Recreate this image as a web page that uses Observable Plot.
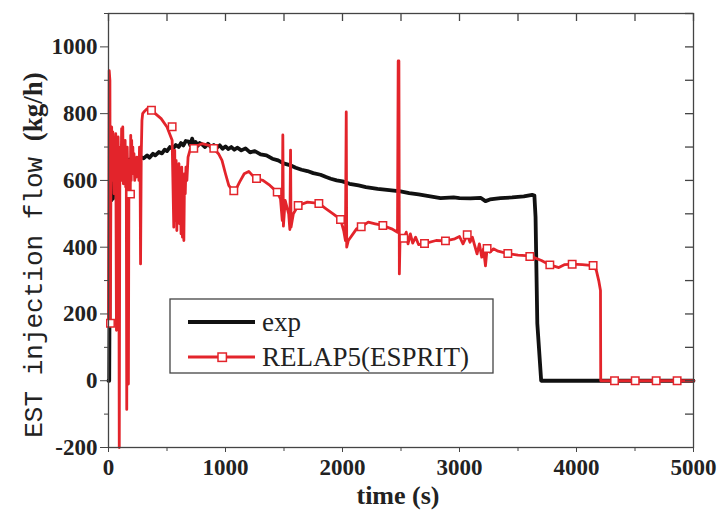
<!DOCTYPE html>
<html>
<head>
<meta charset="utf-8">
<script src="https://cdn.jsdelivr.net/npm/d3@7"></script>
<script src="https://cdn.jsdelivr.net/npm/@observablehq/plot@0.6"></script>
<style>
  html, body { margin: 0; padding: 0; background: #fff; }
  #chart svg { display: block; }
</style>
</head>
<body>
<div id="chart"></div>
<script>
// ---- data ----
const xTicks = [0, 1000, 2000, 3000, 4000, 5000];
const xMinor = [500, 1500, 2500, 3500, 4500];
const yTicks = [-200, 0, 200, 400, 600, 800, 1000];
const yMinor = [-100, 100, 300, 500, 700, 900, 1100];
const yRight = [-100, 0, 100, 200, 300, 400, 500, 600, 700, 800, 900, 1000, 1100];

const seriesNames = ["exp", "RELAP5(ESPRIT)"];

const expT = [0, 6, 8, 12, 18, 24, 30, 38, 45, 52, 60, 70, 80, 90, 100, 115, 130, 145, 160, 180, 200, 225, 250, 275, 300, 330, 350, 380, 400, 430, 457, 480, 500, 525, 550, 575, 600, 620, 640, 660, 686, 700, 715, 730, 745, 760, 780, 800, 825, 850, 875, 900, 925, 950, 975, 1000, 1025, 1050, 1075, 1100, 1135, 1171, 1210, 1250, 1300, 1350, 1400, 1450, 1496, 1550, 1600, 1650, 1700, 1750, 1812, 1860, 1900, 1950, 2000, 2060, 2137, 2200, 2300, 2400, 2496, 2570, 2650, 2750, 2838, 2950, 3000, 3094, 3180, 3222, 3260, 3350, 3450, 3550, 3621, 3640, 3650, 3665, 3698, 5000];
const expV = [0, 0, 157, 530, 600, 540, 590, 545, 620, 560, 600, 630, 640, 650, 645, 655, 645, 660, 650, 663, 650, 665, 660, 670, 666, 675, 668, 680, 675, 685, 681, 692, 688, 700, 695, 706, 700, 712, 705, 718, 716, 705, 725, 708, 715, 703, 712, 708, 700, 710, 700, 706, 698, 705, 695, 702, 694, 700, 692, 698, 690, 696, 684, 688, 678, 675, 665, 660, 651, 646, 638, 632, 628, 622, 617, 610, 605, 600, 597, 590, 585, 580, 575, 571, 567, 562, 558, 552, 547, 549, 547, 546, 548, 538, 543, 547, 549, 552, 557, 555, 490, 172, 0, 0];

const relT = [0, 6, 12, 16, 22, 27, 32, 37, 42, 48, 53, 58, 62, 68, 72, 77, 82, 88, 92, 97, 102, 107, 112, 117, 122, 127, 132, 137, 142, 147, 152, 156, 160, 165, 170, 175, 180, 186, 190, 194, 198, 203, 208, 213, 218, 224, 230, 236, 242, 248, 255, 260, 265, 270, 274, 280, 286, 292, 302, 330, 367, 400, 450, 500, 544, 558, 566, 572, 578, 584, 590, 596, 602, 608, 614, 620, 626, 632, 638, 644, 650, 656, 662, 670, 680, 700, 729, 800, 860, 900, 940, 970, 1000, 1028, 1060, 1085, 1120, 1160, 1199, 1230, 1265, 1320, 1380, 1442, 1470, 1485, 1490, 1495, 1510, 1540, 1550, 1556, 1560, 1580, 1621, 1700, 1798, 1860, 1920, 1983, 2010, 2025, 2032, 2036, 2050, 2090, 2120, 2160, 2220, 2280, 2345, 2420, 2470, 2476, 2482, 2486, 2492, 2524, 2545, 2560, 2580, 2600, 2625, 2650, 2701, 2800, 2880, 2960, 3000, 3030, 3066, 3090, 3110, 3130, 3150, 3170, 3190, 3205, 3222, 3236, 3260, 3290, 3330, 3413, 3500, 3601, 3700, 3772, 3849, 3900, 3963, 4050, 4142, 4170, 4190, 4205, 4207, 5000];
const relV = [172, 929, 900, 172, 720, 760, 600, 745, 650, 560, 720, 600, 740, 151, 700, 590, 730, 600, -200, 640, 700, 600, 755, 640, 760, 590, 700, 610, 720, 580, 640, -86, 700, 600, -10, 660, 600, 559, 735, 600, 720, 640, 700, 620, 680, 600, 660, 610, 670, 620, 650, 600, 700, 640, 350, 680, 780, 800, 805, 815, 815, 800, 785, 760, 720, 460, 690, 480, 660, 450, 640, 520, 650, 470, 620, 440, 640, 430, 600, 420, 620, 560, 640, 600, 670, 695, 700, 710, 705, 695, 680, 660, 620, 585, 570, 570, 595, 620, 627, 615, 605, 600, 585, 565, 545, 480, 736, 463, 540, 500, 453, 691, 460, 500, 525, 535, 531, 515, 500, 483, 450, 420, 805, 400, 420, 440, 455, 461, 475, 470, 465, 455, 445, 958, 958, 320, 430, 427, 445, 410, 440, 412, 430, 408, 411, 420, 419, 425, 432, 410, 437, 415, 430, 405, 380, 410, 370, 395, 344, 396, 385, 395, 388, 381, 376, 374, 360, 347, 339, 348, 349, 348, 345, 330, 300, 270, 0, 0];

const markT = [17, 188, 367, 544, 729, 900, 1071, 1265, 1442, 1621, 1798, 1983, 2160, 2345, 2524, 2701, 2880, 3066, 3236, 3413, 3601, 3772, 3963, 4142, 4325, 4502, 4681, 4860];
const markV = [172, 559, 810, 761, 696, 696, 569, 606, 565, 525, 531, 483, 461, 465, 427, 411, 419, 437, 396, 381, 372, 347, 349, 345, 0, 0, 0, 0];

// ---- build tables ----
const expData = expT.map((t, i) => ({t, v: expV[i]}));
const relData = relT.map((t, i) => ({t, v: relV[i]}));
const markData = markT.map((t, i) => ({t, v: markV[i]}));

const W = 719, H = 510;
const mL = 108, mR = 26, mT = 13, mB = 63;
const fw = W - mL - mR, fh = H - mT - mB;
const RED = "#e3242b", BLACK = "#111", AX = "#444";
const SERIF = "'Liberation Serif', 'Times New Roman', serif";
const tickFont = {fontSize: 23, fontWeight: "bold", fill: "#222"};

const svg = Plot.plot({
  width: W, height: H,
  marginLeft: mL, marginRight: mR, marginTop: mT, marginBottom: mB,
  style: {background: "#fff", color: AX, fontFamily: SERIF},
  x: {domain: [0, 5000], label: null},
  y: {domain: [-200, 1100], label: null},
  marks: [
    Plot.line(expData, {x: "t", y: "v", stroke: BLACK, strokeWidth: 3.8, strokeLinejoin: "round"}),
    Plot.line(relData, {x: "t", y: "v", stroke: RED, strokeWidth: 2.8, strokeLinejoin: "round"}),
    Plot.dot(markData, {x: "t", y: "v", symbol: "square", r: 4.2, fill: "#fff", stroke: RED, strokeWidth: 1.5}),
    Plot.frame({stroke: AX, strokeWidth: 1.3}),
    Plot.axisX(xTicks, {anchor: "bottom", label: null, tickSize: 5, tickPadding: 6, stroke: AX, ...tickFont, tickFormat: d => String(d)}),
    Plot.axisX(xMinor, {anchor: "bottom", label: null, tickSize: 4, text: null, stroke: AX}),
    Plot.axisY(yTicks, {anchor: "left", label: null, tickSize: 8, tickPadding: 3, stroke: AX, ...tickFont, tickFormat: d => String(d)}),
    Plot.axisY(yMinor, {anchor: "left", label: null, tickSize: 4, text: null, stroke: AX}),
    Plot.ruleX([...xTicks, ...xMinor], {x: d => d, insetBottom: fh - 8, stroke: AX, strokeWidth: 1.3}),
    Plot.ruleY(yRight, {y: d => d, insetLeft: fw - 8, stroke: AX, strokeWidth: 1.3})
  ]
});

const s = d3.select(svg);
// force serif on all tick labels
s.selectAll("text").attr("font-family", SERIF).style("font-family", SERIF);

// legend box
const lg = s.append("g").attr("text-anchor", "start");
lg.append("rect").attr("x", 170).attr("y", 299).attr("width", 323).attr("height", 74)
  .attr("fill", "#fff").attr("stroke", AX).attr("stroke-width", 1.3);
lg.append("line").attr("x1", 188).attr("x2", 255).attr("y1", 322).attr("y2", 322)
  .attr("stroke", BLACK).attr("stroke-width", 3.8);
lg.append("line").attr("x1", 188).attr("x2", 255).attr("y1", 357).attr("y2", 357)
  .attr("stroke", RED).attr("stroke-width", 2.8);
lg.append("rect").attr("x", 218).attr("y", 353).attr("width", 8.4).attr("height", 8.4)
  .attr("fill", "#fff").attr("stroke", RED).attr("stroke-width", 1.5);
lg.selectAll("text.lab").data(seriesNames).join("text")
  .attr("class", "lab")
  .attr("x", 262).attr("y", (d, i) => 331 + i * 35)
  .attr("text-anchor", "start")
  .attr("font-family", SERIF)
  .attr("font-size", 27).attr("fill", "#222").text(d => d);

// axis titles
s.append("text").attr("x", 398).attr("y", 504).attr("text-anchor", "middle")
  .attr("font-family", SERIF).attr("font-weight", "bold")
  .attr("font-size", 26).attr("fill", "#222").text("time (s)");
const yl = s.append("text").attr("transform", "translate(42,255) rotate(-90)")
  .attr("text-anchor", "middle").attr("fill", "#222");
yl.append("tspan").attr("font-family", "'Liberation Mono', 'DejaVu Sans Mono', monospace")
  .attr("font-size", 26).text("EST injection flow ");
yl.append("tspan").attr("font-family", SERIF)
  .attr("font-weight", "bold").attr("font-size", 27).text("(kg/h)");

document.getElementById("chart").appendChild(svg);
</script>
</body>
</html>
